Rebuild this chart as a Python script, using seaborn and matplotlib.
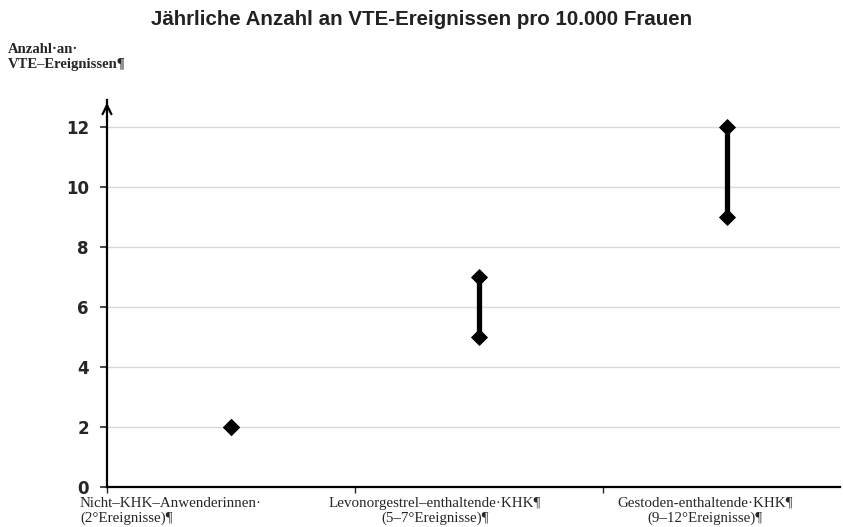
import matplotlib
matplotlib.use("Agg")
import matplotlib.pyplot as plt
import seaborn as sns
import pandas as pd

# data
categories = ["Nicht-KHK-Anwenderinnen", "Levonorgestrel-enthaltende KHK", "Gestoden-enthaltende KHK"]
low_values = [2, 5, 9]
high_values = [2, 7, 12]
cat_labels = [
    "Nicht–KHK–Anwenderinnen·\n(2°Ereignisse)¶",
    "Levonorgestrel–enthaltende·KHK¶\n(5–7°Ereignisse)¶",
    "Gestoden-enthaltende·KHK¶\n(9–12°Ereignisse)¶",
]
y_ticks = [0, 2, 4, 6, 8, 10, 12]

sns.set_style("white")
plt.rcParams["font.family"] = ["DejaVu Sans"]

df = pd.DataFrame({"category": categories, "low": low_values, "high": high_values})
df["pos"] = range(len(df))
points = pd.concat([
    df[["pos", "low"]].rename(columns={"low": "value"}),
    df[["pos", "high"]].rename(columns={"high": "value"}),
])

fig = plt.figure(figsize=(8.43, 5.27), dpi=100)
ax = fig.add_axes([0.1269, 0.0759, 0.8695, 0.7343])

ax.vlines(df["pos"], df["low"], df["high"], color="black", lw=3.8, zorder=3)
sns.scatterplot(x="pos", y="value", data=points, marker="D", s=65, color="black",
                edgecolor="black", zorder=4, ax=ax, legend=False)

ax.set_xlim(-0.5, 2.455)
ax.set_ylim(0, 12.9)
ax.set_yticks(y_ticks)
ax.set_yticklabels([str(v) for v in y_ticks], fontsize=12, fontweight="bold")
ax.set_xticks([-0.5, 0.5, 1.5])
ax.set_xticklabels([])
ax.tick_params(axis="y", length=5, width=1.2, pad=8, direction="out", left=True)
ax.tick_params(axis="x", length=4, width=1, direction="out", bottom=True)
ax.grid(axis="y", color="#d9d9d9", lw=1)
ax.set_xlabel("")
ax.set_ylabel("")
for side in ["top", "right"]:
    ax.spines[side].set_visible(False)
for side in ["left", "bottom"]:
    ax.spines[side].set_color("black")
    ax.spines[side].set_linewidth(1.6)

# arrow at top of the y axis
ax.annotate("", xy=(0, 1.0), xytext=(0, 0.96), xycoords="axes fraction",
            arrowprops=dict(arrowstyle="->", lw=1.6, color="black", mutation_scale=16))

# category labels under the axis
ax.text(-0.609, -0.33, cat_labels[0], ha="left", va="top", fontsize=10.8,
        family="Liberation Serif", linespacing=1.2)
ax.text(0.823, -0.33, cat_labels[1], ha="center", va="top", fontsize=10.8,
        family="Liberation Serif", linespacing=1.2, multialignment="center")
ax.text(1.911, -0.33, cat_labels[2], ha="center", va="top", fontsize=10.8,
        family="Liberation Serif", linespacing=1.2, multialignment="center")

fig.text(0.5, 0.963, "Jährliche Anzahl an VTE-Ereignissen pro 10.000 Frauen",
         ha="center", va="center", fontsize=14.8, fontweight="bold", family="Liberation Sans",
         color="#222222")
fig.text(0.0095, 0.918, "Anzahl·an·\nVTE–Ereignissen¶", ha="left", va="top",
         fontsize=10.5, fontweight="bold", family="Liberation Serif", linespacing=1.15)

fig.savefig("out.png", dpi=100)
